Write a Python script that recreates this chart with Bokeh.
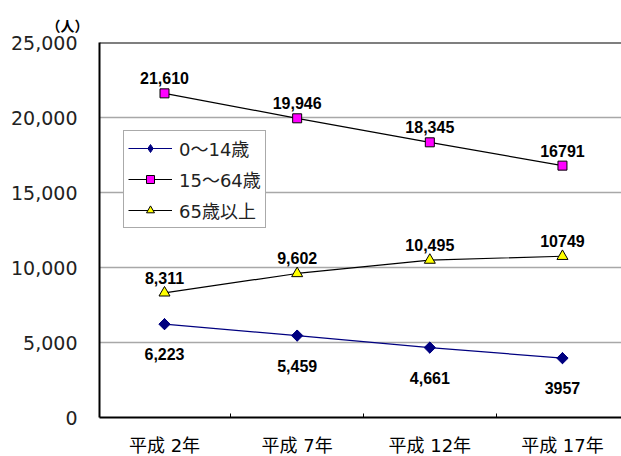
import math
from bokeh.plotting import figure
from bokeh.models import (ColumnDataSource, FixedTicker, NumeralTickFormatter, Range1d, Span,
                          Legend, LegendItem)
from bokeh.core.properties import value
from bokeh.embed import file_html
from bokeh.resources import INLINE

# Population by age group (persons)
years = ["平成 2年", "平成 7年", "平成 12年", "平成 17年"]
age_0_14 = [6223, 5459, 4661, 3957]
age_15_64 = [21610, 19946, 18345, 16791]
age_65_over = [8311, 9602, 10495, 10749]
# whether each census value is printed with a thousands separator
use_comma = [True, True, True, False]

series_names = ["0～14歳", "15～64歳", "65歳以上"]
y_ticks = [0, 5000, 10000, 15000, 20000, 25000]
unit_label = "（人）"

x = list(range(len(years)))


def fmt(values):
    return [f"{v:,}" if c else f"{v}" for v, c in zip(values, use_comma)]


p = figure(frame_width=522, frame_height=375, width=621, height=456,
           min_border_left=99, min_border_right=0, min_border_top=42, min_border_bottom=39,
           x_range=Range1d(-0.49, 3.445), y_range=Range1d(0, 25000),
           output_backend="svg", toolbar_location=None,
           background_fill_color="white", border_fill_color="white")
p.outline_line_color = None

# unit caption above the value axis
p.title.text = unit_label
p.title.align = "left"
p.title.offset = -53
p.title.standoff = 16
p.title.text_font = "Noto Sans CJK JP"
p.title.text_font_size = "14px"
p.title.text_font_style = "bold"
p.title.text_color = "black"

# category axis: labels under each census year, small inward ticks between them
p.xaxis.ticker = FixedTicker(ticks=x, minor_ticks=[0.5, 1.5, 2.5])
p.xaxis.major_label_overrides = {i: t for i, t in enumerate(years)}
p.xaxis.major_tick_line_color = None
p.xaxis.minor_tick_in = 4
p.xaxis.minor_tick_out = 0
p.xaxis.minor_tick_line_color = "black"
p.xaxis.axis_line_color = "black"
p.xaxis.axis_line_width = 2
p.xaxis.major_label_standoff = 11
p.xaxis.major_label_text_font = "DejaVu Sans, Noto Sans CJK JP"
p.xaxis.major_label_text_font_size = "18px"
p.xaxis.major_label_text_color = "black"

# value axis
p.yaxis.ticker = FixedTicker(ticks=y_ticks)
p.yaxis.formatter = NumeralTickFormatter(format="0,0")
p.yaxis.major_tick_line_color = None
p.yaxis.minor_tick_line_color = None
p.yaxis.axis_line_color = "black"
p.yaxis.axis_line_width = 2
p.yaxis.major_label_standoff = 16
p.yaxis.major_label_text_font = "DejaVu Sans"
p.yaxis.major_label_text_font_size = "19px"
p.yaxis.major_label_text_color = "#222222"

p.xgrid.grid_line_color = None
p.ygrid.ticker = FixedTicker(ticks=y_ticks)
p.ygrid.grid_line_color = "#a8a8a8"
p.ygrid.grid_line_width = 1.5

p.add_layout(Span(location=25000, dimension="width", line_color="black", line_width=2))

src = ColumnDataSource(dict(
    x=x,
    a=age_0_14, b=age_15_64, c=age_65_over,
    la=fmt(age_0_14), lb=fmt(age_15_64), lc=fmt(age_65_over),
))

l1 = p.line("x", "a", source=src, line_color="#000080", line_width=1.2)
# a small diamond for the legend key, covered by the rotated square marker
k1 = p.scatter("x", "a", source=src, marker="diamond", size=11,
               fill_color="#000080", line_color="#000080")
m1 = p.scatter("x", "a", source=src, marker="square", size=8, angle=math.pi / 4,
               fill_color="#000080", line_color="#000080")
l2 = p.line("x", "b", source=src, line_color="black", line_width=1.2)
m2 = p.scatter("x", "b", source=src, marker="square", size=9,
               fill_color="#FF00FF", line_color="black")
l3 = p.line("x", "c", source=src, line_color="black", line_width=1.2)
m3 = p.scatter("x", "c", source=src, marker="triangle", size=11,
               fill_color="#FFFF00", line_color="black")

# value labels: below the 0-14 markers, above the others
for col, lab, dy in (("a", "la", 30), ("b", "lb", -15), ("c", "lc", -15)):
    p.text("x", col, text=lab, y_offset=dy, source=src,
           text_font=value("Liberation Sans"), text_font_size="16px",
           text_font_style="bold", text_align="center", text_baseline="middle",
           text_color="black")

legend = Legend(items=[
    LegendItem(label=series_names[0], renderers=[l1, k1]),
    LegendItem(label=series_names[1], renderers=[l2, m2]),
    LegendItem(label=series_names[2], renderers=[l3, m3]),
], location=(24, 189))
legend.border_line_color = "#555555"
legend.border_line_width = 1.5
legend.background_fill_color = "white"
legend.background_fill_alpha = 1
legend.padding = 4
legend.margin = 0
legend.spacing = 5
legend.glyph_width = 44
legend.glyph_height = 20
legend.label_height = 20
legend.label_standoff = 7
legend.label_text_font = "DejaVu Sans, Noto Sans CJK JP"
legend.label_text_font_size = "18px"
legend.label_text_color = "#222222"
p.add_layout(legend)

open("out.html", "w").write(file_html(p, INLINE))
